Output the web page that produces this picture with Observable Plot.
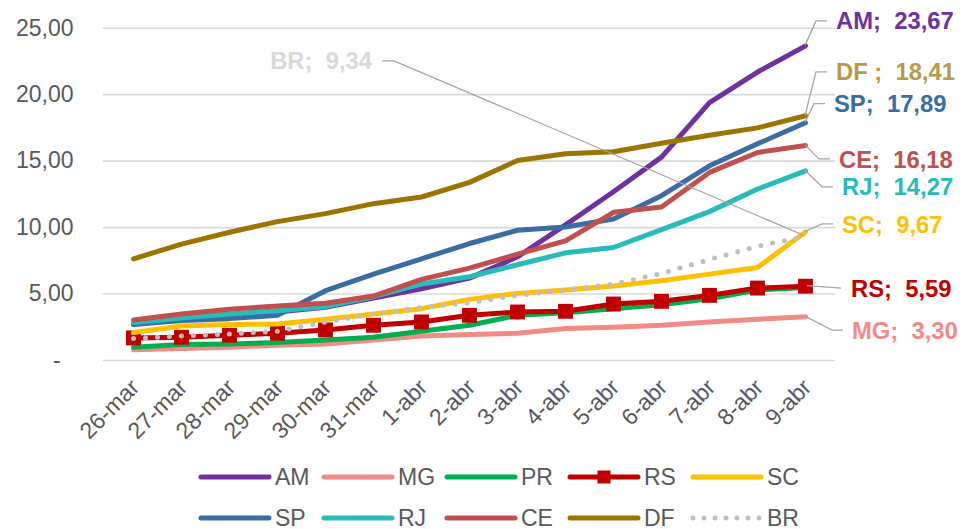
<!DOCTYPE html>
<html><head><meta charset="utf-8">
<script src="https://cdn.jsdelivr.net/npm/d3@7"></script>
<script src="https://cdn.jsdelivr.net/npm/@observablehq/plot@0.6"></script>
<style>
body{margin:0;background:#fff;font-family:"Liberation Sans",Arial,sans-serif;}
#chart svg{display:block;}
#legend{width:967px;height:74px;position:relative;}
.lrow{position:absolute;left:197px;display:flex;height:30px;align-items:center;}
.litem{width:123px;display:flex;align-items:center;}
.litem span{font-size:23px;color:#595959;margin-left:2px;}
</style></head><body><div id="chart"></div><div id="legend"></div>
<script>
const dates = ["26-mar","27-mar","28-mar","29-mar","30-mar","31-mar","1-abr","2-abr","3-abr","4-abr","5-abr","6-abr","7-abr","8-abr","9-abr"];
const AM = [2.75, 3.05, 3.35, 3.65, 4.0, 4.7, 5.4, 6.2, 7.8, 10.2, 12.7, 15.3, 19.4, 21.7, 23.67];
const MG = [0.8, 0.9, 1.0, 1.15, 1.25, 1.55, 1.85, 1.95, 2.05, 2.4, 2.5, 2.65, 2.9, 3.1, 3.30];
const PR = [1.0, 1.2, 1.25, 1.35, 1.55, 1.75, 2.2, 2.65, 3.4, 3.6, 3.9, 4.2, 4.65, 5.3, 5.5];
const RS = [1.7, 1.75, 1.9, 2.05, 2.3, 2.65, 2.9, 3.4, 3.65, 3.7, 4.25, 4.45, 4.9, 5.45, 5.59];
const SC = [2.1, 2.6, 2.7, 2.75, 3.1, 3.5, 3.9, 4.6, 5.05, 5.3, 5.6, 6.0, 6.5, 7.0, 9.67];
const SP = [2.7, 3.0, 3.15, 3.4, 5.25, 6.5, 7.65, 8.8, 9.8, 10.05, 10.65, 12.4, 14.65, 16.3, 17.89];
const RJ = [2.85, 3.2, 3.5, 3.75, 4.05, 4.8, 5.75, 6.3, 7.2, 8.1, 8.5, 9.85, 11.2, 12.9, 14.27];
const CE = [3.05, 3.5, 3.85, 4.1, 4.3, 4.85, 6.1, 6.95, 8.0, 9.0, 11.15, 11.55, 14.15, 15.65, 16.18];
const DF = [7.65, 8.75, 9.65, 10.45, 11.05, 11.8, 12.3, 13.4, 15.05, 15.55, 15.7, 16.35, 16.95, 17.5, 18.41];
const BR = [1.65, 1.85, 2.0, 2.2, 2.9, 3.5, 4.0, 4.35, 4.9, 5.3, 5.75, 6.55, 7.6, 8.6, 9.34];
const seriesNames = ["AM","MG","PR","RS","SC","SP","RJ","CE","DF","BR"];
const seriesValues = [AM, MG, PR, RS, SC, SP, RJ, CE, DF, BR];
const yTicks = [0, 5, 10, 15, 20, 25];

const lineColors = {AM:"#7030A0", MG:"#F28A85", PR:"#00B050", RS:"#C00000", SC:"#FFC000", SP:"#3A6EA3", RJ:"#27BBBA", CE:"#C0504D", DF:"#9C7400", BR:"#BFBFBF"};
const labelColors = {AM:"#7030A0", MG:"#F28A85", PR:"#00B050", RS:"#C00000", SC:"#FFC000", SP:"#3A6EA3", RJ:"#27BBBA", CE:"#C0504D", DF:"#B69A4C", BR:"#D9D9D9"};
const labelSep = {DF:"\u00a0;\u00a0\u00a0"};
// label layout: pixel offsets of label anchor from the series' last point
const labelLayout = {
  AM:{dx:31, dy:-24.5}, DF:{dx:31, dy:-43.5}, SP:{dx:29, dy:-18.5}, CE:{dx:34, dy:14},
  RJ:{dx:37, dy:16.5}, SC:{dx:37, dy:-7.5}, RS:{dx:46, dy:2.5}, MG:{dx:47, dy:14},
  BR:{dx:-433, dy:-175, anchor:"end"}
};

const rows = seriesNames.flatMap((n, i) => seriesValues[i].map((v, j) => ({name:n, date:dates[j], value:v})));
const fmt = v => v.toFixed(2).replace(".", ",");

const marks = [
  Plot.gridY({ticks: yTicks, stroke:"#D9D9D9", strokeOpacity:1, strokeWidth:1.6}),
  Plot.axisY({ticks: yTicks, tickSize:0, tickPadding:29.7, fontSize:23, tickFormat: d => d === 0 ? "-\u00a0\u00a0" : fmt(d)}),
  Plot.axisX({tickSize:0, tickPadding:0, tickRotate:-45, fontSize:23, dy:23, dx:2, textAnchor:"end", lineAnchor:"middle"})
];
for (const n of seriesNames) {
  const data = rows.filter(r => r.name === n);
  if (n === "BR") {
    marks.push(Plot.lineY(data, {x:"date", y:"value", stroke:lineColors[n], strokeWidth:5, strokeLinecap:"round", strokeDasharray:"0 12"}));
  } else {
    marks.push(Plot.lineY(data, {x:"date", y:"value", stroke:lineColors[n], strokeWidth:5, strokeLinecap:"round", strokeLinejoin:"round"}));
  }
  if (n === "RS") {
    marks.push(Plot.dot(data, {x:"date", y:"value", symbol:"square", r:8.4, fill:lineColors[n], stroke:"none"}));
  }
}

const chart = Plot.plot({
  width: 967, height: 455,
  marginLeft: 102.7, marginRight: 132, marginTop: 27.7, marginBottom: 95,
  style: {color:"#595959", fontFamily:"'Liberation Sans', Arial, sans-serif", background:"#fff"},
  x: {type:"point", domain: dates, padding:0.5, label:null},
  y: {domain:[0, 25], label:null},
  marks
});
document.getElementById("chart").appendChild(chart);

// leader lines + end labels, positioned through the chart's scales
const xs = chart.scale("x"), ys = chart.scale("y");
const svg = d3.select(chart);
const g = svg.append("g");
seriesNames.forEach((n, i) => {
  const L = labelLayout[n];
  if (!L) return;
  const vals = seriesValues[i];
  const last = vals[vals.length - 1];
  const px = xs.apply(dates[dates.length - 1]);
  const py = ys.apply(last);
  const lx = px + L.dx, ly = py + L.dy;
  let pts;
  if (L.anchor === "end") pts = [[px, py], [lx + 22, ly], [lx + 10, ly]];
  else if (n === "RS") pts = [[px + 2, py], [lx - 10, ly]];
  else pts = [[px, py], [lx - 20, ly], [lx - 9, ly]];
  g.append("path").attr("d", d3.line()(pts)).attr("fill", "none").attr("stroke", "#A6A6A6").attr("stroke-width", 1.3);
  g.append("text").attr("x", lx).attr("y", ly).attr("dy", "0.36em")
    .attr("text-anchor", L.anchor === "end" ? "end" : "start")
    .attr("font-size", 23.8).attr("font-weight", "bold").attr("fill", labelColors[n])
    .text(n + (labelSep[n] || ";\u00a0\u00a0") + fmt(last));
});

// legend
const legend = document.getElementById("legend");
const rowsDef = [seriesNames.slice(0, 5), seriesNames.slice(5)];
rowsDef.forEach((r, ri) => {
  const row = document.createElement("div");
  row.className = "lrow";
  row.style.top = (ri === 0 ? 7 : 48) + "px";
  r.forEach(n => {
    const it = document.createElement("div");
    it.className = "litem";
    let sw = `<svg width="76" height="20"><line x1="4" y1="10" x2="72" y2="10" stroke="${lineColors[n]}" stroke-width="5" stroke-linecap="round"${n === "BR" ? ' stroke-dasharray="0 11"' : ""}/>`;
    if (n === "RS") sw += `<rect x="31.5" y="3.5" width="13" height="13" fill="${lineColors[n]}"/>`;
    sw += `</svg>`;
    it.innerHTML = sw + `<span>${n}</span>`;
    row.appendChild(it);
  });
  legend.appendChild(row);
});
</script></body></html>
